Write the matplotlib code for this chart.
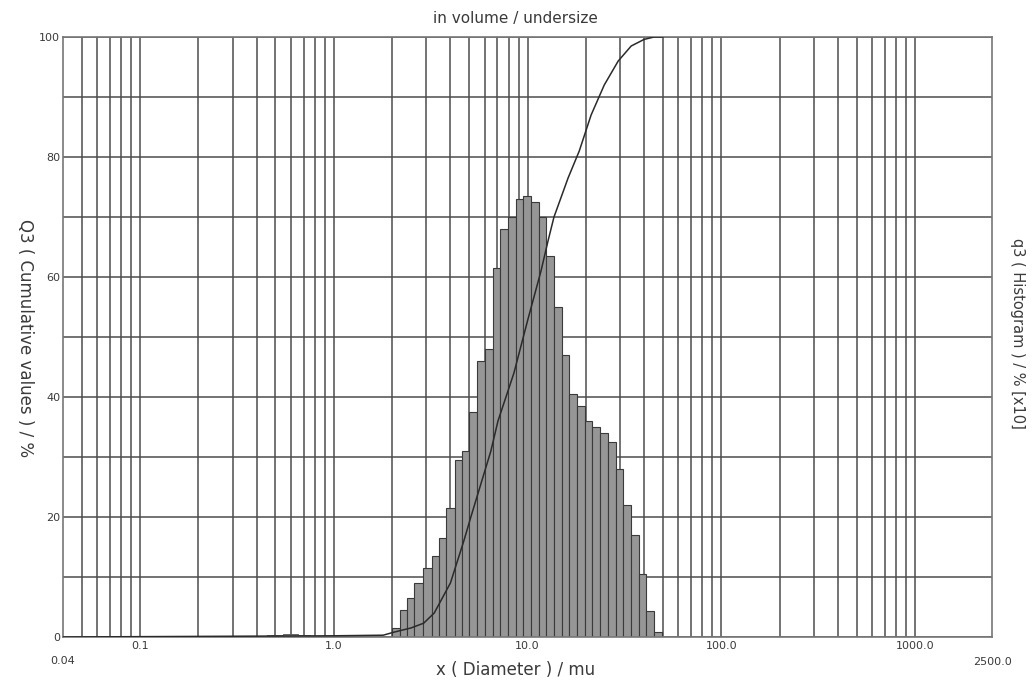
import numpy as np
import matplotlib
matplotlib.use('Agg')
import matplotlib.pyplot as plt
from matplotlib.ticker import FixedLocator, NullFormatter

plt.rcParams['font.family'] = ['DejaVu Sans']

# class edges (mu) and q3 histogram heights (% x10)
bin_edges = [2.0, 2.2, 2.4, 2.6, 2.9, 3.2, 3.5, 3.8, 4.2, 4.6, 5.0, 5.5, 6.0,
             6.6, 7.2, 7.9, 8.7, 9.5, 10.4, 11.4, 12.5, 13.7, 15.0, 16.4, 18.0,
             19.7, 21.6, 23.7, 26.0, 28.5, 31.2, 34.2, 37.5, 41.1, 45.0, 49.3]
q3_hist = [1.5, 4.5, 6.5, 9.0, 11.5, 13.5, 16.5, 21.5, 29.5, 31.0, 37.5, 46.0,
           48.0, 61.5, 68.0, 70.0, 73.0, 73.5, 72.5, 70.0, 63.5, 55.0, 47.0,
           40.5, 38.5, 36.0, 35.0, 34.0, 32.5, 28.0, 22.0, 17.0, 10.5, 4.3, 0.8]

# tiny fraction of fines
fine_edges = [0.45, 0.55, 0.65, 0.75, 0.85]
fine_hist = [0.3, 0.5, 0.4, 0.2]

# Q3 cumulative undersize (%)
cum_x = [0.04, 1.0, 1.8, 2.04, 2.5, 2.91, 3.3, 4.0, 4.69, 5.1, 6.47, 7.04, 8.51,
         10.06, 11.74, 12.76, 13.7, 16.2, 18.5, 21.3, 24.9, 29.4, 34.3, 40.0,
         45.0, 50.0]
cum_y = [0.0, 0.2, 0.3, 0.8, 1.5, 2.3, 4.0, 9.0, 16.0, 20.0, 31.0, 36.0, 44.0,
         53.0, 61.0, 66.0, 70.0, 76.5, 81.0, 87.0, 92.0, 96.0, 98.5, 99.6,
         100.0, 100.0]

x_labels = ['0.1', '1.0', '10.0', '100.0', '1000.0']
x_label_pos = [0.1, 1.0, 10.0, 100.0, 1000.0]

fig = plt.figure(figsize=(10.36, 6.82), dpi=100)
ax = fig.add_axes([63 / 1036, 1 - 637 / 682, (992 - 63) / 1036, 600 / 682])
ax.set_xscale('log')
ax.set_xlim(0.04, 2500)
ax.set_ylim(0, 100)

grid_c = '#4d4d4d'
txt_c = '#3a3a3a'

# vertical log grid (majors + minors up to 1000)
grid_x = [m * 10.0 ** e for e in range(-2, 3) for m in range(1, 10)
          if 0.04 < m * 10.0 ** e <= 1000]
ax.xaxis.set_major_locator(FixedLocator(x_label_pos))
ax.xaxis.set_minor_locator(FixedLocator(grid_x))
ax.xaxis.set_minor_formatter(NullFormatter())
ax.set_xticklabels(x_labels)
ax.yaxis.set_major_locator(FixedLocator([0, 20, 40, 60, 80, 100]))
ax.yaxis.set_minor_locator(FixedLocator(list(range(10, 100, 10))))
ax.grid(True, which='both', color=grid_c, linewidth=1.1)
ax.set_axisbelow(True)
ax.tick_params(which='both', length=0, labelsize=8, colors=txt_c)
ax.tick_params(axis='x', pad=3)
ax.tick_params(axis='y', pad=2)

for sp in ax.spines.values():
    sp.set_color('#777777')
    sp.set_linewidth(1.2)

# histogram
e = np.array(bin_edges)
ax.bar(e[:-1], q3_hist, width=np.diff(e), align='edge', facecolor='#969696',
       edgecolor='#3a3a3a', linewidth=0.8, zorder=2)
fe = np.array(fine_edges)
ax.bar(fe[:-1], fine_hist, width=np.diff(fe), align='edge', facecolor='#969696',
       edgecolor='#555555', linewidth=0.6, zorder=2)

# cumulative curve
ax.plot(cum_x, cum_y, color='#2a2a2a', linewidth=1.1, zorder=3)

# end labels
ax.text(0.0, -0.04, '0.04', transform=ax.transAxes, ha='center', va='center',
        fontsize=8, color=txt_c)
ax.text(1.0, -0.042, '2500.0', transform=ax.transAxes, ha='center', va='center',
        fontsize=8, color=txt_c)

fig.text(516 / 1036, 1 - 670 / 682, 'x ( Diameter ) / mu', ha='center',
         va='center', fontsize=12, color=txt_c)
fig.text(25 / 1036, 1 - 338 / 682, 'Q3 ( Cumulative values ) / %', rotation=-90,
         ha='center', va='center', fontsize=12, color=txt_c)
fig.text(1017 / 1036, 1 - 333 / 682, 'q3 ( Histogram ) / % [x10]', rotation=-90,
         ha='center', va='center', fontsize=10.5, color=txt_c)
fig.text(515 / 1036, 1 - 18 / 682, 'in volume / undersize', ha='center',
         va='center', fontsize=11, color=txt_c)

plt.savefig('out.png', dpi=100)
